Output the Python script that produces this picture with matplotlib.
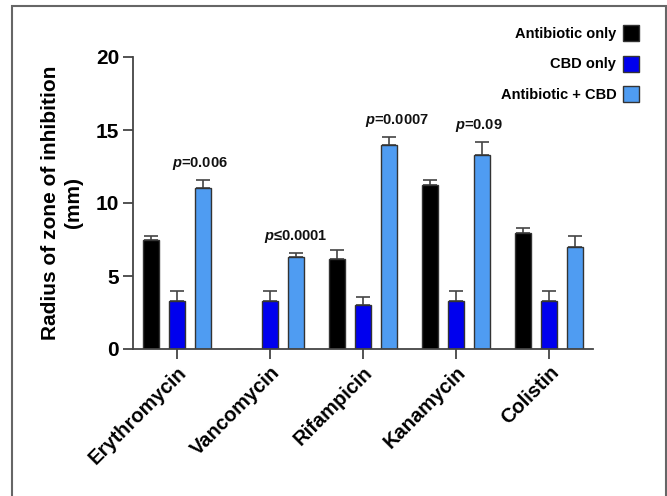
import matplotlib
matplotlib.use("Agg")
import matplotlib.pyplot as plt
from matplotlib.patches import Rectangle
import numpy as np

categories = ["Erythromycin", "Vancomycin", "Rifampicin", "Kanamycin", "Colistin"]
series_names = ["Antibiotic only", "CBD only", "Antibiotic + CBD"]
antibiotic_only = [7.5, 0.0, 6.15, 11.2, 7.95]
antibiotic_only_err = [0.25, 0.0, 0.65, 0.4, 0.35]
cbd_only = [3.3, 3.3, 3.0, 3.3, 3.3]
cbd_only_err = [0.65, 0.65, 0.55, 0.65, 0.65]
combo = [11.0, 6.3, 14.0, 13.3, 7.0]
combo_err = [0.55, 0.3, 0.55, 0.85, 0.75]
p_labels = ["=0.006", "≤0.0001", "=0.0007", "=0.09", None]
y_ticks = [0, 5, 10, 15, 20]

plt.rcParams['font.family'] = ['Liberation Sans', 'DejaVu Sans']
plt.rcParams['mathtext.fontset'] = 'custom'
plt.rcParams['mathtext.bfit'] = 'Liberation Sans:italic:bold'

fig = plt.figure(figsize=(6.67, 4.96), dpi=100)
ax = fig.add_axes([133/667, 1-349/496, (593-133)/667, (349-57)/496])

x = np.arange(len(categories))
off = 0.28
w = 0.175
colors = ["#000000", "#0000ee", "#4f9cf2"]
data = [(antibiotic_only, antibiotic_only_err), (cbd_only, cbd_only_err), (combo, combo_err)]
handles = []
for i, ((vals, errs), c, name) in enumerate(zip(data, colors, series_names)):
    pos = x + (i-1)*off
    bars = ax.bar(pos, vals, width=w, color=c, edgecolor="#333333", linewidth=1.0, label=name, zorder=2)
    v = np.array(vals); e = np.array(errs)
    mask = v > 0
    ax.errorbar(pos[mask], v[mask], yerr=[np.zeros(mask.sum()), e[mask]], fmt='none',
                ecolor="#444444", elinewidth=1.2, capsize=5, capthick=1.2, zorder=1)
    handles.append(bars)

# p-value annotations
p_dx = [-0.03, 0.0, 0.09, -0.03, 0]
for i, p in enumerate(p_labels):
    if p is None:
        continue
    top = combo[i] + combo_err[i]
    xc = x[i] + off + p_dx[i]
    ax.text(xc, top + 0.55, "$\\mathbfit{p}$" + p, ha="center", va="bottom",
            fontsize=10.5, fontweight="bold", color="#111111")

ax.set_xlim(-0.473, 4.473)
ax.set_ylim(0, 20)
ax.set_yticks(y_ticks)
ax.set_yticklabels([str(t) for t in y_ticks], fontsize=15, fontweight="bold")
ax.set_xticks(x)
ax.set_xticklabels(categories, rotation=45, ha="right", rotation_mode="anchor",
                   fontsize=14.5, fontweight="bold")
for s in ["top", "right"]:
    ax.spines[s].set_visible(False)
for s in ["left", "bottom"]:
    ax.spines[s].set_color("#444444")
    ax.spines[s].set_linewidth(1.3)
ax.tick_params(axis="both", length=7, width=1.3, color="#444444", pad=3)
ax.set_ylabel("Radius of zone of inhibition\n(mm)", fontsize=15, fontweight="bold", labelpad=9,
              linespacing=1.3)

leg = fig.legend(handles, series_names, loc="upper right", bbox_to_anchor=(652/667, 1-12/496),
                 markerfirst=False, frameon=False, prop={"weight": "bold", "size": 10.5},
                 handlelength=1.1, handleheight=1.3, labelspacing=1.0, handletextpad=0.45)
for t in leg.get_texts():
    t.set_ha("right")

fig.patches.append(Rectangle((12/667, -0.1), (666-12)/667, 1.1 - 6/496, transform=fig.transFigure,
                             fill=False, edgecolor="#666666", linewidth=1.5))

fig.savefig("out.png", dpi=100)
